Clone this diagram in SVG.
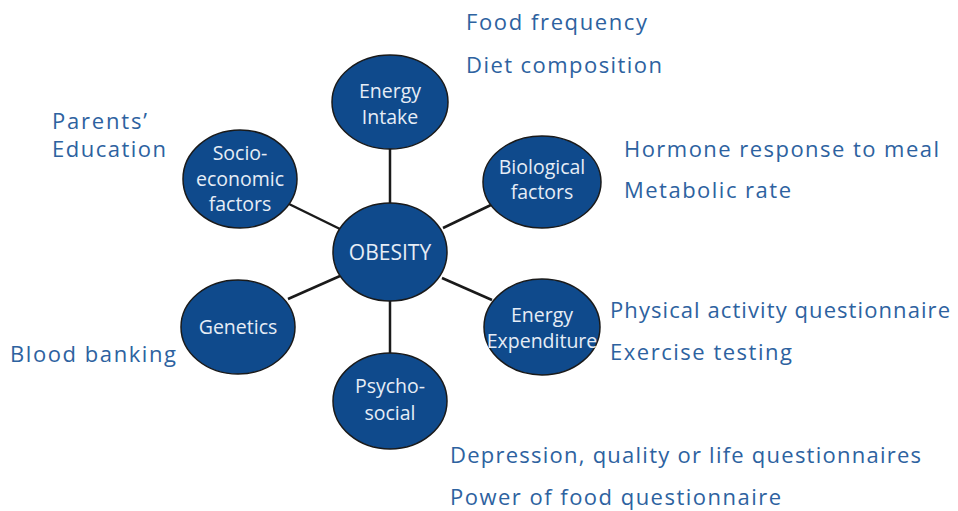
<svg xmlns="http://www.w3.org/2000/svg" width="958" height="511" viewBox="0 0 958 511">
<style>
.node ellipse{fill:#0f4a8c;stroke:#1a1a1a;stroke-width:1.5}
.node text{font-family:"Open Sans","Liberation Sans",sans-serif;font-size:19.5px;fill:#e6edf6;text-anchor:middle}
.lbl{font-family:"Open Sans","Liberation Sans",sans-serif;font-size:22px;fill:#2d62a0}
#connectors line{stroke:#1a1a1a;stroke-width:2.5}
</style>
<rect width="958" height="511" fill="#ffffff"/>
<g id="connectors">
<line x1="390" y1="148" x2="390" y2="204"/>
<line x1="390" y1="300" x2="390" y2="353"/>
<line x1="289" y1="204" x2="340" y2="229"/>
<line x1="443" y1="228" x2="493" y2="204"/>
<line x1="288" y1="299" x2="340" y2="276"/>
<line x1="442" y1="278" x2="492" y2="300"/>
</g>
<g id="obesity" class="node"><ellipse cx="390" cy="252" rx="57" ry="49"/><text x="390" y="260" style="font-size:21px">OBESITY</text></g>
<g id="energy-intake" class="node"><ellipse cx="390" cy="102" rx="58" ry="47"/><text x="390" y="98">Energy</text><text x="390" y="124">Intake</text></g>
<g id="biological" class="node"><ellipse cx="542" cy="182" rx="59" ry="46"/><text x="542" y="174">Biological</text><text x="542" y="199">factors</text></g>
<g id="energy-expenditure" class="node"><ellipse cx="542" cy="327" rx="58" ry="48"/><text x="542" y="322">Energy</text><text x="542" y="348">Expenditure</text></g>
<g id="psychosocial" class="node"><ellipse cx="390" cy="401" rx="57" ry="48"/><text x="390" y="393">Psycho-</text><text x="390" y="420">social</text></g>
<g id="genetics" class="node"><ellipse cx="238" cy="327" rx="57" ry="47"/><text x="238" y="334">Genetics</text></g>
<g id="socioeconomic" class="node"><ellipse cx="240" cy="179" rx="57" ry="49"/><text x="240" y="160">Socio-</text><text x="240" y="186">economic</text><text x="240" y="211">factors</text></g>
<g id="labels">
<text class="lbl" x="466" y="30" textLength="181">Food frequency</text>
<text class="lbl" x="466" y="73" textLength="196">Diet composition</text>
<text class="lbl" x="52" y="129" textLength="95">Parents’</text>
<text class="lbl" x="52" y="157" textLength="114">Education</text>
<text class="lbl" x="624" y="157" textLength="315">Hormone response to meal</text>
<text class="lbl" x="624" y="198" textLength="167">Metabolic rate</text>
<text class="lbl" x="610" y="318" textLength="340">Physical activity questionnaire</text>
<text class="lbl" x="610" y="360" textLength="182">Exercise testing</text>
<text class="lbl" x="10" y="362" textLength="166">Blood banking</text>
<text class="lbl" x="450" y="463" textLength="471">Depression, quality or life questionnaires</text>
<text class="lbl" x="450" y="505" textLength="331">Power of food questionnaire</text>
</g>
</svg>
